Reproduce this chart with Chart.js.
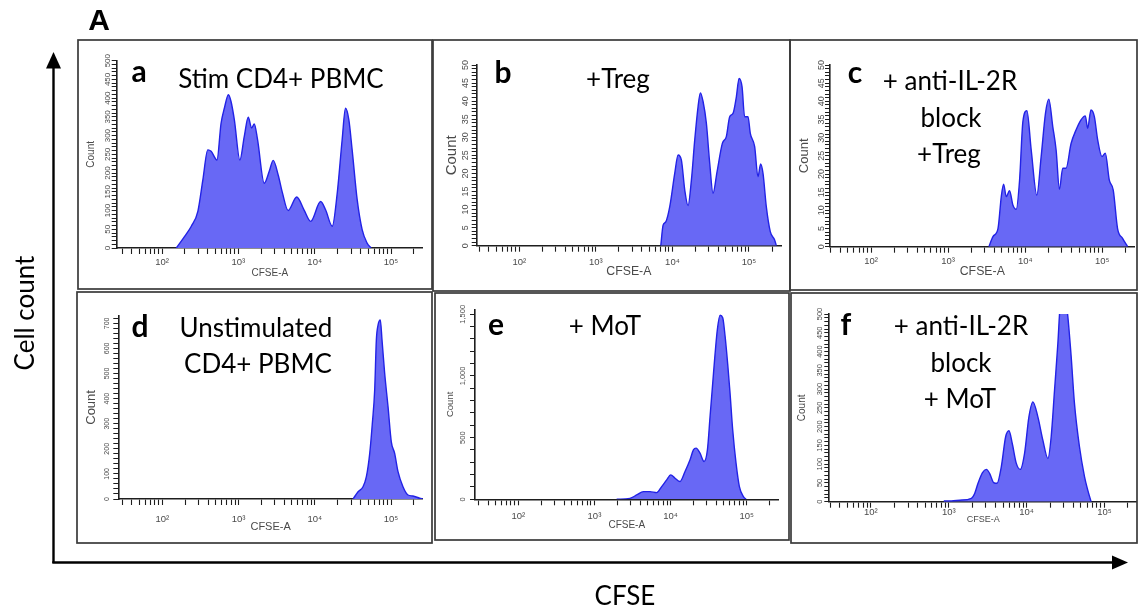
<!DOCTYPE html>
<html>
<head>
<meta charset="utf-8">
<script src="https://cdn.jsdelivr.net/npm/chart.js@4.4.1/dist/chart.umd.min.js"></script>
<style>
  body { margin: 0; width: 1138px; height: 611px; background: #fff; position: relative; overflow: hidden; }
  canvas { position: absolute; }
  #overlay { position: absolute; left: 0; top: 0; pointer-events: none; }
  .lbl { font-family: Lato, "Noto Sans", sans-serif; font-size: 26px; fill: #000; }
  .let { font-family: Lato, "Noto Sans", sans-serif; font-size: 30px; font-weight: 700; fill: #000; }
</style>
</head>
<body>
<canvas id="pa"></canvas>
<canvas id="pb"></canvas>
<canvas id="pc"></canvas>
<canvas id="pd"></canvas>
<canvas id="pe"></canvas>
<canvas id="pf"></canvas>

<svg id="overlay" width="1138" height="611">
  <g fill="none" stroke="#3a3a3a" stroke-width="1.7">
    <rect x="78" y="40" width="354" height="249"/>
    <rect x="433" y="40" width="357" height="251"/>
    <rect x="790" y="40" width="347" height="250"/>
    <rect x="77" y="292" width="355" height="251"/>
    <rect x="435" y="293" width="354" height="247"/>
    <rect x="791" y="293" width="346" height="250"/>
  </g>
  <g stroke="#000" stroke-width="2.4">
    <line x1="53.5" y1="563" x2="53.5" y2="66"/>
    <line x1="52.3" y1="562.5" x2="1114" y2="562.5"/>
  </g>
  <polygon points="53.5,52 46,68.5 61,68.5" fill="#000"/>
  <polygon points="1128,562.5 1112,555.5 1112,569.5" fill="#000"/>

  <text x="99" y="30" text-anchor="middle" font-family="Liberation Sans, Arial, sans-serif" font-size="30" font-weight="700">A</text>
  <text class="lbl" transform="translate(34,313) rotate(-90)" text-anchor="middle">Cell count</text>
  <text class="lbl" x="625" y="605" text-anchor="middle">CFSE</text>

  <text class="let" x="139" y="82" text-anchor="middle">a</text>
  <text class="lbl" x="281" y="88" text-anchor="middle">Stim CD4+ PBMC</text>

  <text class="let" x="503" y="83" text-anchor="middle">b</text>
  <text class="lbl" x="618" y="88" text-anchor="middle">+Treg</text>

  <text class="let" x="855" y="83" text-anchor="middle">c</text>
  <text class="lbl" x="950" y="90" text-anchor="middle">+ anti-IL-2R</text>
  <text class="lbl" x="951" y="127" text-anchor="middle">block</text>
  <text class="lbl" x="949" y="163" text-anchor="middle">+Treg</text>

  <text class="let" x="140" y="337" text-anchor="middle">d</text>
  <text class="lbl" x="256" y="337" text-anchor="middle">Unstimulated</text>
  <text class="lbl" x="258" y="373" text-anchor="middle">CD4+ PBMC</text>

  <text class="let" x="496" y="335" text-anchor="middle">e</text>
  <text class="lbl" x="605" y="335" text-anchor="middle">+ MoT</text>

  <text class="let" x="846" y="335" text-anchor="middle">f</text>
  <text class="lbl" x="961" y="335" text-anchor="middle">+ anti-IL-2R</text>
  <text class="lbl" x="961" y="372" text-anchor="middle">block</text>
  <text class="lbl" x="960" y="408" text-anchor="middle">+ MoT</text>
</svg>

<script>
// x axis (CFSE-A, log)
const xTickValues = [100, 1000, 10000, 100000];
const xTickLabels = ['10²', '10³', '10⁴', '10⁵'];
const xMaxValue = 262144;

// a: Stim CD4+ PBMC
const stimCfse = [154, 198, 242, 295, 343, 398, 440, 525, 594, 656, 741, 802, 887, 1047, 1197, 1349, 1493, 1618, 1786, 2183,
  2535, 2864, 3327, 3784, 4487, 5821, 7244, 8872, 11967, 13900, 16982, 19770, 22909, 25351, 28054, 30974, 36058, 41879, 48641, 54828];
const stimCount = [0, 31, 58, 98, 182, 262, 258, 235, 333, 373, 409, 391, 342, 235, 298, 349, 320, 331, 289, 173,
  204, 234, 195, 147, 100, 136, 102, 71, 124, 102, 58, 147, 289, 373, 342, 262, 129, 49, 13, 0];

// b: +Treg
const tregCfse = [7047, 7551, 8185, 9226, 10715, 11858, 13092, 14488, 15996, 17701, 19543, 21627, 23174, 25119, 27733, 30690, 33884, 38282,
  44875, 50582, 55976, 61802, 68391, 74131, 81096, 87700, 97051, 103992, 118577, 130918, 141906, 152405, 168267, 189671, 216272, 227510];
const tregCount = [0, 5.7, 6.6, 10.8, 20, 25.1, 23.7, 15.4, 11.1, 18.2, 29.2, 38.5, 42.3, 39.9, 33.9, 22.8, 14.5, 20.5,
  28.3, 30.2, 35.7, 36.6, 41.2, 46.3, 44, 35.7, 35.7, 31.1, 27.4, 19.1, 22.6, 20, 10.8, 3.9, 1.6, 0];

// c: + anti-IL-2R block +Treg
const blockTregCfse = [3388, 3819, 4436, 4898, 5248, 5675, 6266, 6918, 7656, 8453, 9333, 10520, 11967, 14158, 16106, 18323, 20230, 22803,
  25177, 27797, 30690, 33884, 39355, 45604, 52966, 60256, 64565, 71285, 78886, 87096, 99083, 109396, 123310, 138676, 157761, 183231, 212814];
const blockTregCount = [0, 2.8, 5, 13.8, 17.2, 13.8, 15.4, 11.5, 10.3, 18.3, 34.4, 37.4, 26.6, 14.2, 24.8, 36.7, 40.6, 33,
  26.6, 15.8, 21.6, 21.6, 28.4, 32.1, 34.9, 36, 32.6, 37.6, 35.8, 29.4, 24.8, 25.7, 18.3, 15.6, 5, 2.3, 0];

// d: Unstimulated CD4+ PBMC
const unstimCfse = [31769, 36983, 42954, 47534, 52602, 56885, 61094, 64269, 67608, 72444, 76208, 82604, 91411, 100925,
  111686, 123595, 143549, 167109, 194089, 237684, 262000];
const unstimCount = [0, 29, 49, 89, 182, 301, 434, 634, 693, 713, 634, 501, 368, 228, 182, 109, 49, 16, 12, 3, 0];

// e: + MoT
const motCfse = [1959, 2931, 3589, 4395, 5370, 6577, 7638, 8892, 10046, 11455, 13305, 15488, 18030, 19953, 21627, 24378,
  27542, 30479, 33037, 35810, 38371, 41210, 44668, 48417, 51999, 56364, 60395, 65464, 72444, 80168, 90573, 98175];
const motCount = [0, 8, 35, 62, 62, 54, 103, 157, 198, 171, 144, 225, 320, 401, 415, 374,
  307, 401, 673, 944, 1175, 1378, 1492, 1473, 1324, 1093, 863, 564, 293, 103, 22, 0];

// f: + anti-IL-2R block + MoT
const blockMotCfse = [863, 1081, 1384, 1954, 2153, 2377, 2704, 3041, 3357, 3776, 4169, 4732, 5383, 5943, 6546, 7379, 8299, 9419,
  10715, 12050, 13964, 16181, 18793, 20701, 22856, 25235, 26915, 29174, 31623, 33884, 37411, 41210, 47753, 55463, 61094, 67453];
const blockMotCount = [2, 2, 4, 9, 22, 49, 77, 86, 75, 51, 49, 93, 173, 189, 155, 102, 86, 129,
  226, 266, 226, 164, 115, 173, 297, 422, 520, 560, 540, 493, 386, 262, 147, 67, 31, 0];

const panels = [
  { id: 'pa', cfse: stimCfse, count: stimCount, yMax: 500, yMajor: 50, yMinor: 10,
    box: [78, 40, 432, 289], axisX: 116.7, x2: 162, x5: 391, topPx: 60.7, basePx: 248,
    xLabelY: 262, xTitleY: 273.3, yTitleX: 91.7, yLabelOff: 8.5, yFont: 8, countFont: 10, cfseFont: 10 },
  { id: 'pb', cfse: tregCfse, count: tregCount, yMax: 50, yMajor: 5, yMinor: 1,
    box: [433, 40, 790, 291], axisX: 476.7, x2: 519.3, x5: 749, topPx: 65, basePx: 245.7,
    xLabelY: 262, xTitleY: 271.7, yTitleX: 451.7, yLabelOff: 11, yFont: 9, countFont: 15, cfseFont: 12.3 },
  { id: 'pc', cfse: blockTregCfse, count: blockTregCount, yMax: 50, yMajor: 5, yMinor: 1,
    box: [790, 40, 1137, 290], axisX: 830, x2: 871, x5: 1102.3, topPx: 65, basePx: 246.7,
    xLabelY: 261.7, xTitleY: 271.7, yTitleX: 804, yLabelOff: 8.5, yFont: 9, countFont: 13, cfseFont: 12.3 },
  { id: 'pd', cfse: unstimCfse, count: unstimCount, yMax: 730, yMajor: 100, yMinor: 20,
    box: [77, 292, 432, 543], axisX: 118.3, x2: 162.3, x5: 391, topPx: 315.8, basePx: 499,
    xLabelY: 519.3, xTitleY: 527.3, yTitleX: 91.7, yLabelOff: 11, yFont: 7, countFont: 13, cfseFont: 11 },
  { id: 'pe', cfse: motCfse, count: motCount, yMax: 1540, yMajor: 500, yMinor: 100,
    box: [435, 293, 789, 540], axisX: 475, x2: 518.3, x5: 746.7, topPx: 309.4, basePx: 499.3,
    xLabelY: 516.7, xTitleY: 525, yTitleX: 450, yLabelOff: 12.5, yFont: 7.5, countFont: 9.5, cfseFont: 10 },
  { id: 'pf', cfse: blockMotCfse, count: blockMotCount, yMax: 500, yMajor: 50, yMinor: 10,
    box: [791, 293, 1137, 543], axisX: 829.3, x2: 871, x5: 1105, topPx: 314, basePx: 501.7,
    xLabelY: 512.7, xTitleY: 520, yTitleX: 802.7, yLabelOff: 9.3, yFont: 7.5, countFont: 10, cfseFont: 9 }
];

const tickFamily = '"Liberation Sans", Arial, sans-serif';
const xTickLen = 6;
const yTickLen = 5;
const xFont = 9.5;

function textWidth(str, size) {
  const ctx = document.createElement('canvas').getContext('2d');
  ctx.font = size + 'px ' + tickFamily;
  return ctx.measureText(str).width;
}

function drawPanel(p) {
  const [bx1, by1, bx2, by2] = p.box;
  const cv = document.getElementById(p.id);
  cv.width = bx2 - bx1;
  cv.height = by2 - by1;
  cv.style.left = bx1 + 'px';
  cv.style.top = by1 + 'px';

  const dec = (p.x5 - p.x2) / 3;
  const xMin = Math.pow(10, 2 - (p.x2 - p.axisX) / dec);
  const plotRight = p.x5 + (Math.log10(xMaxValue) - 5) * dec;

  const yLabels = [];
  for (let v = 0; v <= p.yMax; v += p.yMajor) yLabels.push(v.toLocaleString('en-US'));
  const widest = Math.max(...yLabels.map(s => textWidth(s, p.yFont)));

  new Chart(cv, {
    type: 'line',
    data: {
      datasets: [{
        data: p.cfse.map((x, i) => ({ x: x, y: p.count[i] })),
        borderColor: '#2222e6',
        backgroundColor: '#6868f5',
        borderWidth: 1.4,
        fill: 'origin',
        pointRadius: 0,
        cubicInterpolationMode: 'monotone'
      }]
    },
    options: {
      responsive: false,
      animation: false,
      events: [],
      layout: { padding: { left: 0, bottom: 0, top: p.topPx - by1, right: bx2 - plotRight } },
      plugins: { legend: { display: false }, tooltip: { enabled: false } },
      scales: {
        x: {
          type: 'logarithmic',
          min: xMin,
          max: xMaxValue,
          afterBuildTicks: scale => {
            const ticks = [];
            for (let d = 1; d <= 5; d++) {
              for (let k = 1; k <= 9; k++) {
                const v = k * Math.pow(10, d);
                if (v >= xMin && v <= xMaxValue) ticks.push({ value: v });
              }
            }
            scale.ticks = ticks;
          },
          afterFit: scale => { scale.height = by2 - p.basePx; },
          grid: { drawOnChartArea: false, color: '#1e1e1e', tickLength: xTickLen, tickWidth: 1.1 },
          border: { color: '#1e1e1e', width: 1.6 },
          ticks: {
            autoSkip: false,
            maxRotation: 0,
            color: '#4a4a4a',
            font: { family: tickFamily, size: xFont },
            padding: p.xLabelY - p.basePx - xTickLen - xFont * 0.6,
            callback: v => {
              const i = xTickValues.indexOf(v);
              return i >= 0 ? xTickLabels[i] : '';
            }
          },
          title: {
            display: true,
            text: 'CFSE-A',
            color: '#4a4a4a',
            font: { family: tickFamily, size: p.cfseFont },
            padding: { top: 0, bottom: by2 - p.xTitleY - p.cfseFont * 0.6 }
          }
        },
        y: {
          min: 0,
          max: p.yMax,
          afterBuildTicks: scale => {
            const ticks = [];
            for (let v = 0; v <= p.yMax; v += p.yMinor) ticks.push({ value: v });
            scale.ticks = ticks;
          },
          afterFit: scale => { scale.width = p.axisX - bx1; },
          grid: { drawOnChartArea: false, color: '#1e1e1e', tickLength: yTickLen, tickWidth: 1 },
          border: { color: '#1e1e1e', width: 1.6 },
          ticks: {
            autoSkip: false,
            minRotation: 90,
            maxRotation: 90,
            crossAlign: 'center',
            color: '#4a4a4a',
            font: { family: tickFamily, size: p.yFont },
            padding: p.yLabelOff - yTickLen - widest / 2,
            callback: v => (v % p.yMajor === 0 ? v.toLocaleString('en-US') : '')
          },
          title: {
            display: true,
            text: 'Count',
            color: '#4a4a4a',
            font: { family: tickFamily, size: p.countFont },
            padding: { top: p.yTitleX - bx1 - p.countFont * 0.6, bottom: 0 }
          }
        }
      }
    }
  });
}

panels.forEach(drawPanel);
</script>
</body>
</html>
